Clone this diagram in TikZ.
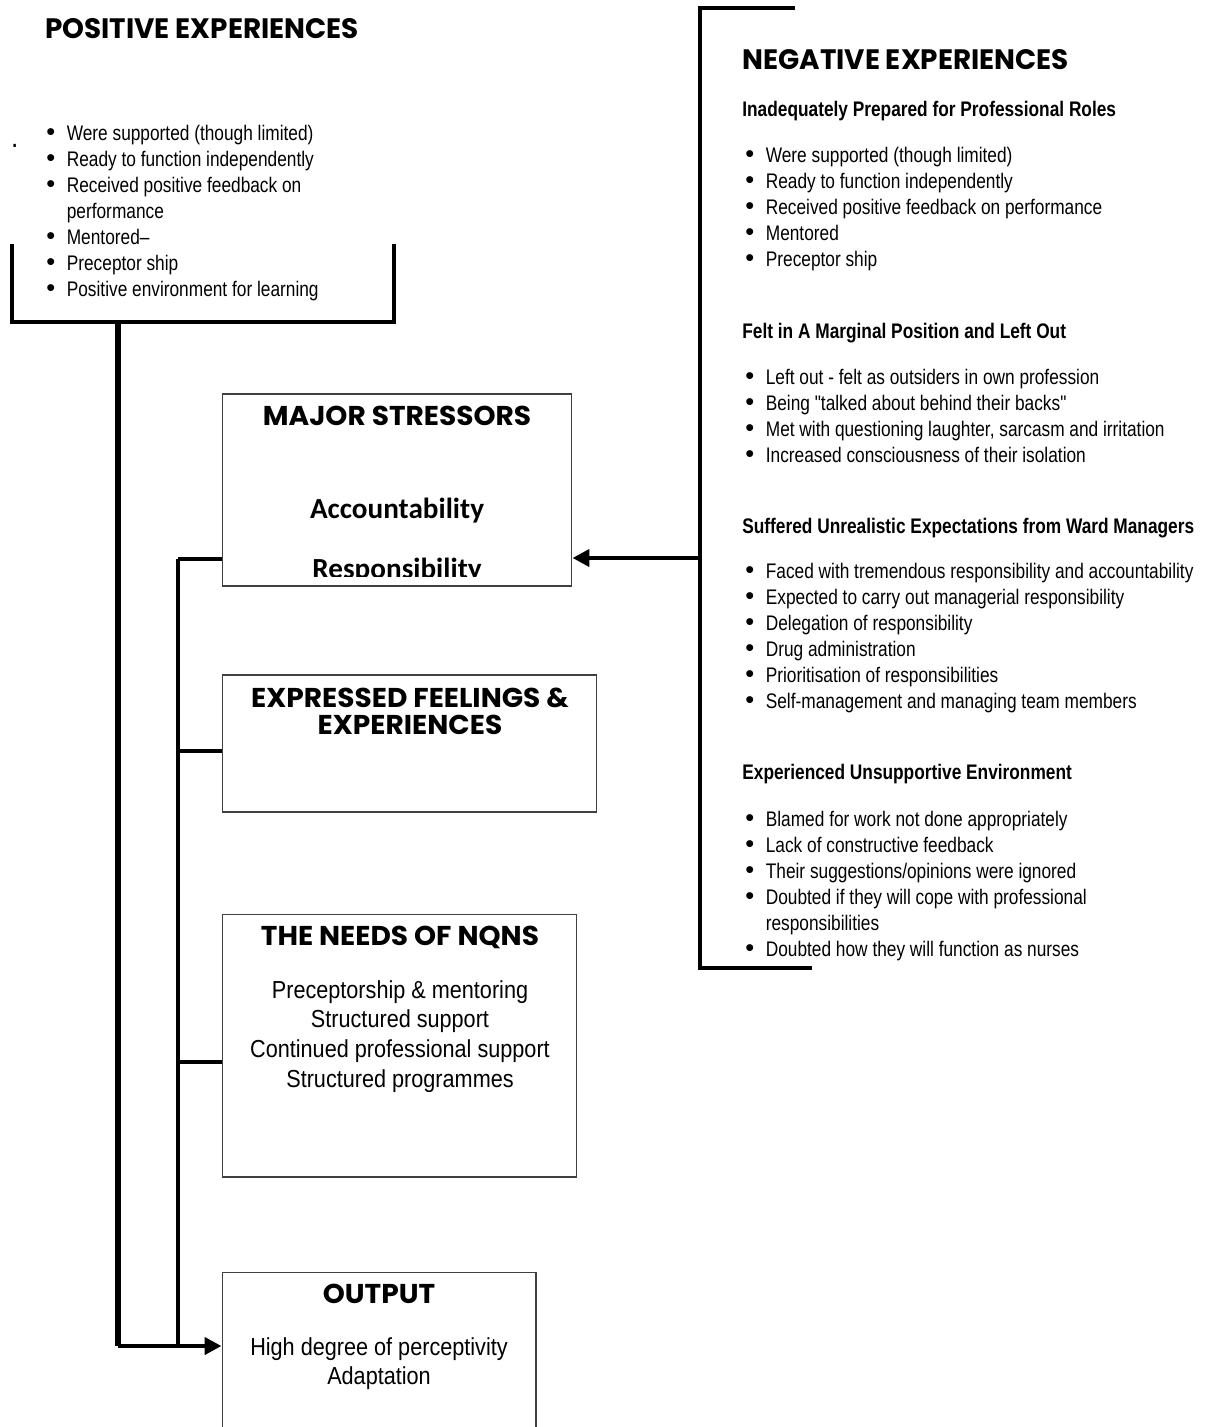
\documentclass[tikz,border=0pt]{standalone}
\usepackage{fontspec}
\usetikzlibrary{arrows.meta,positioning}

\newfontfamily\bodyfont{Liberation Sans}[FakeStretch=0.82]
\newfontfamily\boxfont{Liberation Sans}[FakeStretch=0.88]
\newfontfamily\dotfont{Liberation Sans}
\newfontfamily\headfont{Poppins}[FakeStretch=0.99]
\newfontfamily\titlefont{Poppins}[FakeStretch=1.03]
\newfontfamily\calfont{Carlito}

\newcommand{\itm}{\makebox[0.41cm][l]{\dotfont\fontsize{14.5}{14.8}\selectfont\textbullet}}
\newcommand{\gap}{\hspace*{0.41cm}}
\newcommand{\lines}[1]{\begin{tabular}[t]{@{}l@{}}#1\end{tabular}}
\newcommand{\clines}[1]{\begin{tabular}[t]{@{}c@{}}#1\end{tabular}}

\begin{document}
\begin{tikzpicture}[x=0.02cm, y=-0.02cm,
    box/.style={rectangle, draw=black!75, line width=0.6pt, inner sep=0pt},
    heading/.style={anchor=base west, inner sep=0pt, font={\headfont\bfseries\fontsize{16}{19}\selectfont}},
    title/.style={anchor=base, inner sep=0pt, font={\titlefont\bfseries\fontsize{15.5}{15.9}\selectfont}},
    calword/.style={anchor=base, inner sep=0pt, font={\calfont\bfseries\fontsize{16.6}{19}\selectfont}},
    sub/.style={anchor=base west, inner sep=0pt, font={\bodyfont\bfseries\fontsize{12}{14.8}\selectfont}},
    list/.style={anchor=base west, inner sep=0pt, font={\bodyfont\fontsize{12}{14.8}\selectfont}},
    boxtext/.style={anchor=base, inner sep=0pt, font={\boxfont\fontsize{14}{17}\selectfont}},
    spine/.style={line width=3pt},
    branch/.style={line width=2.1pt},
    feed/.style={line width=2.6pt, -{Triangle[length=0.34cm, width=0.34cm]}}]

    \useasboundingbox (0,0) rectangle (1209,1427);

    % boxes of the middle column
    \node[box, minimum width=7cm, minimum height=3.84cm] (stress) at (397,490) {};
    \node[box, minimum width=7.5cm, minimum height=2.74cm] (feel) at (409.5,743.5) {};
    \node[box, minimum width=7.1cm, minimum height=5.26cm] (needs) at (399.5,1045.5) {};
    \node[box, minimum width=6.28cm, minimum height=3.46cm] (output) at (379,1358.5) {};

    \node[title] (stresst) at (397,425) {MAJOR STRESSORS};
    \node[calword] (acct) at (397,518) {Accountability};
    \begin{scope}
      \clip (223,540) rectangle (571,576);
      \node[calword] (resp) at (397,578) {Responsibility};
    \end{scope}
    \node[title] (feelt) at (410,707) {\clines{EXPRESSED FEELINGS \&\\EXPERIENCES}};
    \node[title] (needst) at (400,945) {THE NEEDS OF NQNS};
    \node[boxtext] (needsl) at (400,998) {\clines{Preceptorship \& mentoring\\Structured support\\Continued professional support\\Structured programmes}};
    \node[title] (outputt) at (379,1303) {OUTPUT};
    \node[boxtext] (outputl) at (379,1355) {\clines{High degree of perceptivity\\Adaptation}};

    % positive side
    \node[heading] (post) at (45,38) {POSITIVE EXPERIENCES};
    \node[list] (dot) at (12,147) {\bfseries .};
    \node[list] (posl) at (46,140) {\lines{\itm Were supported (though limited)\\
        \itm Ready to function independently\\
        \itm Received positive feedback on\\
        \gap performance\\
        \itm Mentored–\\
        \itm Preceptor ship\\
        \itm Positive environment for learning}};

    % negative side
    \node[heading] (negt) at (742,69) {NEGATIVE EXPERIENCES};
    \node[sub] (neg1) at (742,116) {Inadequately Prepared for Professional Roles};
    \node[list] (neg1l) at (745,162) {\lines{\itm Were supported (though limited)\\
        \itm Ready to function independently\\
        \itm Received positive feedback on performance\\
        \itm Mentored\\
        \itm Preceptor ship}};
    \node[sub] (neg2) at (742,338) {Felt in A Marginal Position and Left Out};
    \node[list] (neg2l) at (745,384) {\lines{\itm Left out - felt as outsiders in own profession\\
        \itm Being "talked about behind their backs"\\
        \itm Met with questioning laughter, sarcasm and irritation\\
        \itm Increased consciousness of their isolation}};
    \node[sub] (neg3) at (742,533) {Suffered Unrealistic Expectations from Ward Managers};
    \node[list] (neg3l) at (745,578) {\lines{\itm Faced with tremendous responsibility and accountability\\
        \itm Expected to carry out managerial responsibility\\
        \itm Delegation of responsibility\\
        \itm Drug administration\\
        \itm Prioritisation of responsibilities\\
        \itm Self-management and managing team members}};
    \node[sub] (neg4) at (742,779) {Experienced Unsupportive Environment};
    \node[list] (neg4l) at (745,826) {\lines{\itm Blamed for work not done appropriately\\
        \itm Lack of constructive feedback\\
        \itm Their suggestions/opinions were ignored\\
        \itm Doubted if they will cope with professional\\
        \gap responsibilities\\
        \itm Doubted how they will function as nurses}};

    % brackets
    \coordinate (pa) at (12,244);
    \coordinate (pb) at (12,322);
    \coordinate (pc) at (394,322);
    \coordinate (pd) at (394,244);
    \draw[branch] (pa) -- (pb) -- (pc) -- (pd);

    \coordinate (na) at (795,8);
    \coordinate (nb) at (700,8);
    \coordinate (nc) at (700,968);
    \coordinate (nd) at (812,968);
    \draw[branch] (na) -- (nb) -- (nc) -- (nd);

    % connectors
    \coordinate (stem) at (118,322);
    \coordinate (corner) at (118,1346);
    \coordinate (s1) at (178,559);
    \coordinate (s2) at (178,751);
    \coordinate (s3) at (178,1062);
    \coordinate (s4) at (178,1346);
    \coordinate (nj) at (700,558);

    \draw[spine] (stem) -- (corner);
    \draw[line width=1.9pt] (s1) -- (s4);
    \draw[branch] (s1) -- (s1 -| stress.west);
    \draw[branch] (s2) -- (s2 -| feel.west);
    \draw[branch] (s3) -- (s3 -| needs.west);
    \draw[feed] (corner) -- (corner -| output.west);
    \draw[feed] (nj) -- (nj -| stress.east);
\end{tikzpicture}
\end{document}
